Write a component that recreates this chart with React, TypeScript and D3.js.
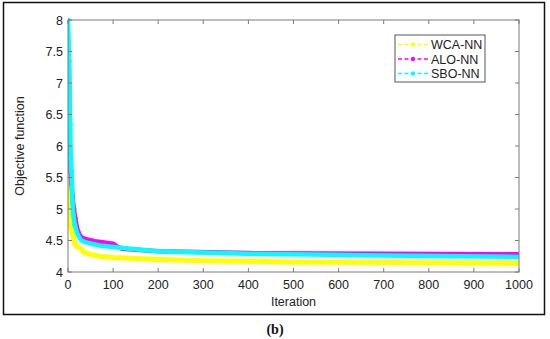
import * as d3 from 'd3'

const xTicks = [0, 100, 200, 300, 400, 500, 600, 700, 800, 900, 1000]
const yTicks = [4, 4.5, 5, 5.5, 6, 6.5, 7, 7.5, 8]

// [iteration, objective]
const wcaNN: [number, number][] = [
  [0, 7.4], [2, 5.85], [3, 4.87], [5, 4.75], [10, 4.6], [15, 4.45], [20, 4.4], [30, 4.37],
  [35, 4.31], [50, 4.28], [70, 4.25], [100, 4.23], [200, 4.2], [300, 4.18], [500, 4.16],
  [700, 4.15], [1000, 4.14],
]
const aloNN: [number, number][] = [
  [0, 7.4], [2, 7.35], [4, 6.0], [6, 5.6], [8, 5.4], [10, 5.2], [13, 5.0], [16, 4.85],
  [20, 4.7], [25, 4.6], [30, 4.55], [40, 4.52], [60, 4.49], [80, 4.47], [100, 4.45],
  [110, 4.4], [120, 4.37], [200, 4.33], [400, 4.3], [700, 4.29], [1000, 4.28],
]
const sboNN: [number, number][] = [
  [0, 8.0], [2, 7.5], [4, 6.45], [5, 6.35], [6, 5.8], [8, 5.6], [10, 5.1], [12, 4.9],
  [15, 4.75], [20, 4.62], [25, 4.55], [30, 4.5], [40, 4.47], [70, 4.42], [137, 4.37],
  [200, 4.33], [400, 4.29], [700, 4.26], [1000, 4.24],
]

const series = [
  {name: 'WCA-NN', color: '#ffff00', data: wcaNN},
  {name: 'ALO-NN', color: '#ff00ff', data: aloNN},
  {name: 'SBO-NN', color: '#00ffff', data: sboNN},
]

export default function App() {
  const width = 550
  const height = 339
  const left = 68
  const right = 519
  const top = 20
  const bottom = 272

  const x = d3.scaleLinear().domain([0, 1000]).range([left, right])
  const y = d3.scaleLinear().domain([4, 8]).range([bottom, top])
  const line = d3.line<[number, number]>().x(d => x(d[0])).y(d => y(d[1]))

  const font = 'Liberation Sans, Arial, sans-serif'
  const axisColor = '#7a7a7a'
  const fs = 12.5

  return (
    <div style={{position: 'absolute', left: 0, top: 0}}>
      <svg width={width} height={height} viewBox={`0 0 ${width} ${height}`} fontFamily={font}>
        <rect x={0} y={0} width={width} height={height} fill='#fff' />
        <rect x={3.5} y={2.5} width={541} height={312} fill='none' stroke='#111' strokeWidth={1.5} />

        <defs>
          <clipPath id='plot'>
            <rect x={left} y={top - 2} width={right - left + 2} height={bottom - top + 2} />
          </clipPath>
        </defs>

        <g clipPath='url(#plot)'>
          {series.map(s => (
            <g key={s.name}>
              <path d={line(s.data) ?? undefined} fill='none' stroke={s.color}
                strokeWidth={s.name === 'WCA-NN' ? 5 : 4.5} strokeLinejoin='round' />
              {s.data.filter(d => d[0] < 20).map((d, i) => (
                <circle key={i} cx={x(d[0])} cy={y(d[1])} r={2.5} fill={s.color} />
              ))}
            </g>
          ))}
        </g>

        <rect x={left} y={top} width={right - left} height={bottom - top} fill='none' stroke={axisColor} strokeWidth={1} />
        {xTicks.map(t => (
          <g key={t}>
            <line x1={x(t)} x2={x(t)} y1={bottom} y2={bottom - 4} stroke={axisColor} />
            <line x1={x(t)} x2={x(t)} y1={top} y2={top + 4} stroke={axisColor} />
            <text x={x(t)} y={289} textAnchor='middle' fontSize={fs} fill='#222'>{t}</text>
          </g>
        ))}
        {yTicks.map(t => (
          <g key={t}>
            <line x1={left} x2={left + 4} y1={y(t)} y2={y(t)} stroke={axisColor} />
            <line x1={right} x2={right - 4} y1={y(t)} y2={y(t)} stroke={axisColor} />
            <text x={63} y={y(t) + 4.5} textAnchor='end' fontSize={fs} fill='#222'>{t}</text>
          </g>
        ))}

        <text x={(left + right) / 2} y={306} textAnchor='middle' fontSize={fs} fill='#222'>Iteration</text>
        <text transform={`translate(24, ${(top + bottom) / 2}) rotate(-90)`} textAnchor='middle' fontSize={fs} fill='#222'>
          Objective function
        </text>

        <g>
          <rect x={395} y={35} width={90} height={47} fill='#fff' stroke='#555' strokeWidth={1} />
          {series.map((s, i) => {
            const ly = 44.5 + i * 14.5
            return (
              <g key={s.name}>
                <line x1={398} x2={429} y1={ly} y2={ly} stroke={s.color} strokeWidth={1.5} strokeDasharray='4,2.5' />
                <circle cx={413} cy={ly} r={2.2} fill={s.color} />
                <text x={431} y={ly + 4.5} fontSize={fs} fill='#222'>{s.name}</text>
              </g>
            )
          })}
        </g>

        <text x={275} y={334} textAnchor='middle' fontSize={14} fontWeight='bold' fontFamily='Liberation Serif, Times New Roman, serif' fill='#111'>
          (b)
        </text>
      </svg>
    </div>
  )
}
